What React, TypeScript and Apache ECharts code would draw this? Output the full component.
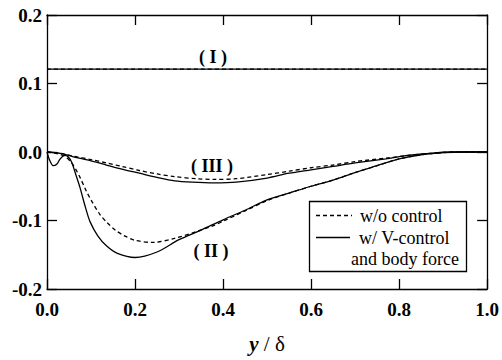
import React, { useEffect, useRef } from "react";
import * as echarts from "echarts";

// x positions (y/δ) and values for each curve
const lineIX = [0, 1];
const lineIVals = [0.121, 0.121];

const ctrlIIX = [0, 0.006, 0.014, 0.022, 0.03, 0.04, 0.048, 0.056, 0.066, 0.075, 0.087, 0.098, 0.115, 0.135, 0.16, 0.2, 0.25, 0.3, 0.35, 0.4, 0.45, 0.5, 0.55, 0.6, 0.65, 0.7, 0.75, 0.8, 0.85, 0.9, 0.95, 1.0];
const ctrlIIVals = [0, -0.012, -0.02, -0.018, -0.01, -0.005, -0.007, -0.015, -0.034, -0.052, -0.08, -0.102, -0.122, -0.137, -0.148, -0.154, -0.146, -0.128, -0.114, -0.099, -0.085, -0.07, -0.06, -0.05, -0.041, -0.03, -0.02, -0.01, -0.004, -0.001, 0, 0];

const noCtrlIIX = [0, 0.02, 0.04, 0.055, 0.065, 0.075, 0.09, 0.1, 0.12, 0.135, 0.155, 0.175, 0.2, 0.24, 0.29, 0.34, 0.38, 0.4, 0.45, 0.5, 0.55, 0.6, 0.65, 0.7, 0.75, 0.8, 0.85, 0.9, 0.95, 1.0];
const noCtrlIIVals = [0, -0.002, -0.006, -0.015, -0.025, -0.037, -0.058, -0.07, -0.091, -0.102, -0.114, -0.122, -0.129, -0.132, -0.126, -0.116, -0.107, -0.101, -0.086, -0.071, -0.06, -0.05, -0.041, -0.03, -0.02, -0.01, -0.004, -0.001, 0, 0];

const ctrlIIIX = [0, 0.03, 0.06, 0.1, 0.135, 0.17, 0.21, 0.25, 0.29, 0.33, 0.38, 0.43, 0.5, 0.55, 0.6, 0.65, 0.7, 0.77, 0.82, 0.87, 0.92, 1.0];
const ctrlIIIVals = [0, -0.002, -0.007, -0.013, -0.019, -0.025, -0.031, -0.037, -0.042, -0.044, -0.045, -0.044, -0.038, -0.031, -0.026, -0.021, -0.016, -0.01, -0.005, -0.002, 0, 0];

const noCtrlIIIX = [0, 0.03, 0.06, 0.1, 0.135, 0.17, 0.21, 0.25, 0.29, 0.34, 0.38, 0.43, 0.5, 0.55, 0.6, 0.65, 0.7, 0.77, 0.82, 0.87, 0.92, 1.0];
const noCtrlIIIVals = [0, -0.002, -0.006, -0.011, -0.016, -0.021, -0.027, -0.032, -0.036, -0.039, -0.04, -0.039, -0.033, -0.028, -0.023, -0.019, -0.014, -0.009, -0.005, -0.002, 0, 0];

const legendTexts = ["w/o control", "w/ V-control", "and body force"];
const curveLabels = ["( I )", "( II )", "( III )"];

const SERIF = "Liberation Serif";

const zip = (xs: number[], ys: number[]) => xs.map((x, i) => [x, ys[i]]);

export default function App() {
  const ref = useRef<HTMLDivElement>(null);
  useEffect(() => {
    if (!ref.current) return;
    const chart = echarts.init(ref.current, undefined, { renderer: "svg" });
    const axisLine = { show: true, onZero: false, lineStyle: { color: "#000", width: 1.3 } };
    const tick = { show: true, inside: true, length: 10, lineStyle: { color: "#000", width: 1.3 } };
    const tickLabel = {
      color: "#000",
      fontFamily: SERIF,
      fontWeight: "bold" as const,
      fontSize: 19,
      formatter: (v: number) => v.toFixed(1),
      showMinLabel: true,
      showMaxLabel: true,
    };
    const solid = { color: "#000", width: 1.3, type: "solid" as const };
    const dashed = { color: "#000", width: 1.3, type: [4, 3] as any };
    const mk = (data: number[][], ls: any) => ({
      type: "line",
      data,
      showSymbol: false,
      symbol: "none",
      smooth: 0.3,
      lineStyle: ls,
      xAxisIndex: 0,
      yAxisIndex: 0,
      silent: true,
    });
    const txt = (text: string, x: number, y: number, bold: boolean, align: string) => ({
      type: "text",
      x,
      y,
      z: 11,
      style: {
        text,
        fontFamily: SERIF,
        fontSize: 18,
        fontWeight: bold ? "bold" : "normal",
        fill: "#000",
        align,
        verticalAlign: "middle",
      },
    });
    chart.setOption({
      animation: false,
      backgroundColor: "#fff",
      grid: { left: 47, right: 14, top: 15, bottom: 71 },
      xAxis: [
        {
          type: "value",
          min: 0,
          max: 1,
          interval: 0.2,
          position: "bottom",
          axisLine,
          axisTick: tick,
          splitLine: { show: false },
          axisLabel: { ...tickLabel, margin: 11 },
          name: "{i|y} / δ",
          nameLocation: "middle",
          nameGap: 44,
          nameTextStyle: {
            color: "#000",
            fontFamily: SERIF,
            fontSize: 21,
            rich: {
              i: { fontStyle: "italic", fontWeight: "bold", fontFamily: SERIF, fontSize: 21, color: "#000" },
            },
          },
        },
        {
          type: "value",
          min: 0,
          max: 1,
          interval: 0.2,
          position: "top",
          axisLine,
          axisTick: tick,
          splitLine: { show: false },
          axisLabel: { show: false },
        },
      ],
      yAxis: [
        {
          type: "value",
          min: -0.2,
          max: 0.2,
          interval: 0.1,
          position: "left",
          axisLine,
          axisTick: tick,
          splitLine: { show: false },
          axisLabel: { ...tickLabel, margin: 5 },
        },
        {
          type: "value",
          min: -0.2,
          max: 0.2,
          interval: 0.1,
          position: "right",
          axisLine,
          axisTick: tick,
          splitLine: { show: false },
          axisLabel: { show: false },
        },
      ],
      series: [
        mk(zip(lineIX, lineIVals), solid),
        mk(zip(lineIX, lineIVals), dashed),
        mk(zip(noCtrlIIX, noCtrlIIVals), dashed),
        mk(zip(ctrlIIX, ctrlIIVals), solid),
        mk(zip(noCtrlIIIX, noCtrlIIIVals), dashed),
        mk(zip(ctrlIIIX, ctrlIIIVals), solid),
      ],
      graphic: [
        txt(curveLabels[0], 213, 57, true, "center"),
        txt(curveLabels[1], 211, 251, true, "center"),
        txt(curveLabels[2], 212, 166, true, "center"),
        {
          type: "rect",
          shape: { x: 309.5, y: 201.5, width: 157, height: 70 },
          style: { fill: "#fff", stroke: "#000", lineWidth: 1.3 },
          z: 10,
        },
        {
          type: "line",
          shape: { x1: 316, y1: 215.5, x2: 352, y2: 215.5 },
          style: { stroke: "#000", lineWidth: 1.3, lineDash: [4, 3] },
          z: 11,
        },
        {
          type: "line",
          shape: { x1: 316, y1: 237.5, x2: 350, y2: 237.5 },
          style: { stroke: "#000", lineWidth: 1.3 },
          z: 11,
        },
        txt(legendTexts[0], 360, 215.5, false, "left"),
        txt(legendTexts[1], 359, 237.5, false, "left"),
        txt(legendTexts[2], 351, 258.5, false, "left"),
      ],
    });
    return () => chart.dispose();
  }, []);
  return <div ref={ref} style={{ width: 502, height: 360, position: "absolute", left: 0, top: 0 }} />;
}
